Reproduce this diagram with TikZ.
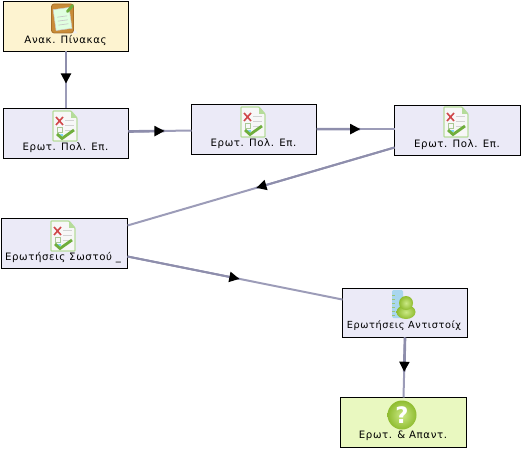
\documentclass[tikz,border=0pt]{standalone}
\usepackage{fontspec}
\setmainfont[LetterSpace=6]{DejaVu Sans}
\usetikzlibrary{calc,arrows.meta}
\definecolor{ln}{HTML}{9C9CB8}
\definecolor{lnd}{HTML}{8E8EAC}
\definecolor{qfill}{HTML}{FDF3D0}
\definecolor{bfill}{HTML}{EBEAF7}
\definecolor{gfill}{HTML}{E9F8C0}
\definecolor{ballin}{HTML}{CBE985}
\definecolor{ballout}{HTML}{8FBC30}
\definecolor{brd}{HTML}{C98B38}
\definecolor{brdd}{HTML}{A86F28}
\definecolor{chk}{HTML}{6FAE3C}
\definecolor{xred}{HTML}{D0484A}
\definecolor{docb}{HTML}{B5DC9A}
\definecolor{ruler}{HTML}{A9D6EE}
\tikzset{
  x=0.75pt,y=-0.75pt,
  boxn/.style={draw=black,line width=0.75pt,minimum width=93.75pt,minimum height=37.5pt,inner sep=0pt,outer sep=0pt,anchor=north west},
  lab/.style={font=\fontsize{7.65pt}{9pt}\selectfont,text=black,inner sep=0pt,anchor=center},
  labn/.style={font=\fontsize{7.3pt}{9pt}\selectfont,text=black,inner sep=0pt,anchor=center},
  conn/.style={draw=ln,line width=1.5pt},
  connh/.style={draw=lnd,line width=#1},
  connh/.default=2pt,
}
% connector from #2 to #3 with the tip at fraction #4, heavy part of width #1
\newcommand{\conn}[4][2pt]{%
  \draw[conn] (#2) -- (#3);
  \draw[connh=#1] (#2) -- ($(#2)!#4!(#3)$);
  \begin{scope}[shift={($(#2)!#4!(#3)$)}]
    \path let \p1=($(#3)-(#2)$), \n1={atan2(\y1,\x1)} in
      [fill=black,rotate=\n1,x=1pt,y=1pt] (0,0) -- (-7.5,4) -- (-7.5,-4) -- cycle;
  \end{scope}}
\newcommand{\docicon}[1]{%
  \begin{scope}[shift={(#1)}]
    \fill[white!94!gray,draw=docb,line width=0.9pt,rounded corners=0.6pt] (-12,-15) -- (6,-15) -- (12,-8) -- (12,15) -- (-12,15) -- cycle;
    \fill[docb] (6,-15) -- (12,-8) -- (6,-8) -- cycle;
    \foreach \yy in {-6,-1,4} \draw[gray!35,line width=0.5pt] (0,\yy) -- (9,\yy);
    \draw[xred,line width=1.2pt] (-9,-9) -- (-2,-1) (-2,-9) -- (-9,-1);
    \draw[docb!80!gray,line width=0.5pt] (-8,1) rectangle (-3,6);
    \fill[cyan!50] (-8,8) rectangle (-2,10);
    \draw[chk,line width=2.1pt] (-8,8) -- (-3,12.5) -- (9,4);
  \end{scope}}
\begin{document}
\begin{tikzpicture}
\useasboundingbox (0,0) rectangle (524,452);
\node[boxn,fill=qfill] (top) at (3.5,1.5) {};
\node[boxn,fill=bfill] (a) at (3.5,108.5) {};
\node[boxn,fill=bfill] (b) at (191.5,104.5) {};
\node[boxn,fill=bfill,minimum width=94.5pt] (c) at (394.5,105.5) {};
\node[boxn,fill=bfill,minimum width=94.5pt] (d) at (1.5,218.5) {};
\node[boxn,fill=bfill,minimum height=36.75pt] (e) at (342.5,288.5) {};
\node[boxn,fill=gfill,minimum width=94.5pt] (f) at (340.5,397.5) {};
% labels
\node[lab] (ltop) at (65.5,40.5) {Ανακ. Πίνακας};
\node[lab] (la) at (65.5,148) {Ερωτ. Πολ. Επ.};
\node[lab] (lb) at (253.5,144) {Ερωτ. Πολ. Επ.};
\node[lab] (lc) at (457,144.5) {Ερωτ. Πολ. Επ.};
\node[lab] (ld) at (63,258) {Ερωτήσεις Σωστού \_};
\node[labn] (le) at (404,326) {Ερωτήσεις Αντιστοίχ};
\node[lab] (lf) at (403,436) {Ερωτ. \& Απαντ.};
% connectors
\conn{top.south}{a.north}{0.56}
\conn{[yshift=1.5pt]a.east}{[yshift=-0.75pt]b.west}{0.57}
\conn{[yshift=0.3pt]b.east}{[yshift=1.05pt]c.west}{0.56}
\conn[1.5pt]{[yshift=-12.75pt]c.west}{[yshift=13.5pt]d.east}{0.517}
\conn[1.5pt]{[yshift=-9.75pt]d.east}{[yshift=10.1pt]e.west}{0.52}
\conn{e.south}{f.north}{0.57}
% icons
\begin{scope}[shift={(62.5,18.5)}]
  \fill[white!88!gray] (-8,11) -- (12,11) -- (15,15) -- (-8,15) -- cycle;
  \fill[brd,draw=brdd,line width=0.6pt,rounded corners=2pt] (-11,-14.5) rectangle (11,14.5);
  \fill[white!88!green,draw=gray!40,line width=0.4pt,rotate=8] (-8,-10) rectangle (8,11);
  \draw[gray!45,line width=0.5pt,rotate=8] (-5,-2) -- (5,-2) (-5,2) -- (5,2) (-5,6) -- (5,6);
  \draw[chk,line width=2.2pt,line cap=round] (5,-7) -- (10,-13);
\end{scope}
\docicon{65,126}
\docicon{253,122}
\docicon{456,122}
\docicon{63,236}
\begin{scope}[shift={(404,303)}]
  \fill[ruler,rounded corners=1pt] (-12,-13) rectangle (-1,15);
  \foreach \yy in {-8,-4,0,4,8,12} \draw[chk!70,line width=0.5pt] (-12,\yy) -- (-9,\yy);
  \shade[inner color=ballin,outer color=ballout] (2,9) ellipse (9.5 and 7);
  \shade[inner color=ballin,outer color=ballout] (2,0) circle (7);
\end{scope}
\begin{scope}[shift={(402,415)}]
  \shade[inner color=ballin,outer color=ballout] (0,0) circle (14.5);
  \node[inner sep=0pt,text=white,font=\fontsize{17pt}{17pt}\bfseries\selectfont] (q) at (0,0) {?};
\end{scope}
\end{tikzpicture}
\end{document}
